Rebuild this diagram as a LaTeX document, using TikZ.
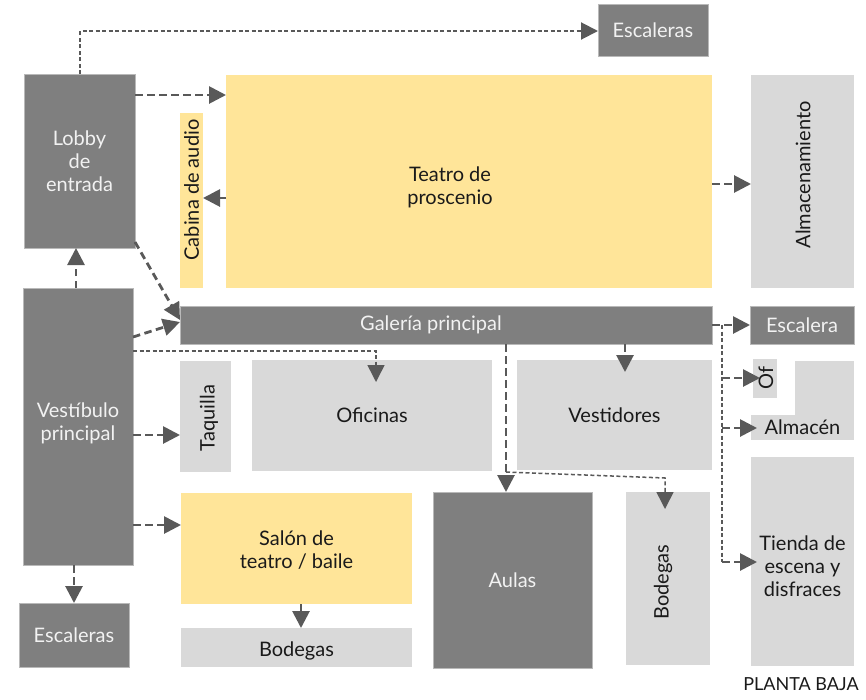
\documentclass[tikz,border=0pt]{standalone}
\usepackage{fontspec}
\setmainfont{Lato}
\usetikzlibrary{arrows.meta,calc}
\definecolor{dkgray}{HTML}{7F7F7F}
\definecolor{ltgray}{HTML}{D9D9D9}
\definecolor{yel}{HTML}{FFE599}
\definecolor{arr}{HTML}{595959}
\definecolor{txtw}{HTML}{F2F2F2}
\definecolor{txtb}{HTML}{1A1A1A}
\begin{document}
\begin{tikzpicture}[x=1pt,y=-1pt,
  font=\fontsize{20}{23}\selectfont,
  bx/.style={rectangle,inner sep=0pt,outer sep=0pt,align=center},
  dk/.style={bx,fill=dkgray,draw=gray!55,line width=0.8pt,text=txtw},
  lt/.style={bx,fill=ltgray,text=txtb},
  yl/.style={bx,fill=yel,text=txtb},
  rot/.style={rotate=90,inner sep=0pt,text=txtb},
  thk/.style={draw=arr,line width=2.8pt,dash pattern=on 7.5pt off 4.5pt,-{Triangle[length=17pt,width=17pt]}},
  thn/.style={draw=arr,line width=1.5pt,dash pattern=on 4pt off 2.5pt},
  thna/.style={thn,-{Triangle[length=17pt,width=17pt]}},
]
\useasboundingbox (0,0) rectangle (866,699);

% boxes
\node[dk,minimum width=110pt,minimum height=52pt] (esc1) at (653,30) {Escaleras};
\node[dk,minimum width=111pt,minimum height=174pt] (lobby) at (79.5,161) {Lobby\\de\\entrada};
\node[yl,minimum width=486pt,minimum height=213pt,label={[xshift=-19pt,yshift=-6pt,align=center,text=txtb]center:Teatro de\\proscenio}] (teatro) at (469,181.5) {};
\node[yl,minimum width=23pt,minimum height=175pt] (cabina) at (191.5,200.5) {};
\node[rot] (cabinaT) at (191.5,190) {Cabina de audio};
\node[lt,minimum width=103pt,minimum height=213pt] (almac) at (802.5,181.5) {};
\node[rot] (almacT) at (803,175) {Almacenamiento};
\node[dk,minimum width=110pt,minimum height=277pt,label={[align=center,yshift=3pt,text=txtw]center:Vestíbulo\\principal}] (vest) at (78,426.5) {};
\node[dk,minimum width=532pt,minimum height=38pt,label={[xshift=-15pt,text=txtw]center:Galería principal}] (gal) at (446,325) {};
\node[dk,minimum width=104pt,minimum height=38pt] (escR) at (802,325) {Escalera};
\node[lt,minimum width=51pt,minimum height=111pt] (taq) at (205.5,416.5) {};
\node[rot] (taqT) at (209,418) {Taquilla};
\node[lt,minimum width=240pt,minimum height=111pt] (ofi) at (372,415.5) {Oficinas};
\node[lt,minimum width=195pt,minimum height=110pt] (vestid) at (614.5,415) {Vestidores};
\node[lt,minimum width=24pt,minimum height=39pt] (of) at (765,378.5) {};
\node[rot] (ofT) at (766,378) {Of};
\node[lt,minimum width=59pt,minimum height=54pt] (box2) at (824.5,388) {};
\node[lt,minimum width=103pt,minimum height=25pt] (almacen) at (802.5,427.5) {Almacén};
\node[lt,minimum width=103pt,minimum height=209pt,label={[align=center,yshift=-5pt,text=txtb]center:Tienda de\\escena y\\disfraces}] (tienda) at (802.5,561.5) {};
\node[yl,minimum width=231pt,minimum height=111pt,label={[align=center,yshift=-2pt,text=txtb]center:Salón de\\teatro / baile}] (salon) at (296.5,548.5) {};
\node[lt,minimum width=231pt,minimum height=39pt,label={[yshift=-3pt,text=txtb]center:Bodegas}] (bod1) at (296.5,647.5) {};
\node[dk,minimum width=159pt,minimum height=176pt] (aulas) at (512.5,580) {Aulas};
\node[lt,minimum width=84pt,minimum height=173pt] (bod2) at (668,578.5) {};
\node[rot] (bod2T) at (663,582) {Bodegas};
\node[dk,minimum width=110pt,minimum height=64pt] (esc2) at (74,635) {Escaleras};
\node[text=txtb,font=\fontsize{18}{21}\selectfont] (pb) at (801,684) {PLANTA BAJA};

% connectors
\draw[thn,-{Triangle[length=17pt,width=17pt]},line width=2pt] (lobby.north -| 80,0) -- (80,31) -- (esc1.west |- 0,31);
\draw[thk] (lobby.east |- 0,95) -- (teatro.west |- 0,95);
\draw[thk] (teatro.west |- 0,198) -- (cabina.east |- 0,198);
\draw[thk] (teatro.east |- 0,184) -- (almac.west |- 0,184);
\draw[thk] (lobby.east |- 0,242) -- (gal.west |- 0,320);
\draw[thk] (vest.north -| 76,0) -- (lobby.south -| 76,0);
\draw[thk] (vest.east |- 0,337) -- (gal.west |- 0,322);
\draw[thna] (vest.east |- 0,351) -- (376,351) -- ($(ofi.north -| 376,0)+(0,22)$);
\draw[thk] (vest.east |- 0,435) -- (taq.west |- 0,435);
\draw[thk] (vest.east |- 0,525) -- (salon.west |- 0,525);
\draw[thk] (vest.south -| 74,0) -- (esc2.north -| 74,0);
\draw[thk] (salon.south -| 301,0) -- (bod1.north -| 301,0);
\draw[thk] (gal.south -| 506,0) -- (aulas.north -| 506,0);
\coordinate (j1) at (506,472);
\draw[thna] (j1) -- (665,478) -- ($(bod2.north -| 665,0)+(0,17)$);
\draw[thk] (gal.south -| 625,0) -- ($(vestid.north -| 625,0)+(0,12)$);
\draw[thk] (gal.east) -- (escR.west);
\coordinate (v0) at (722,325);
\coordinate (v1) at (722,378);
\coordinate (v2) at (722,428);
\coordinate (v3) at (722,562);
\draw[thn] (v0) -- (v3);
\draw[thk] (v1) -- ($(of.west |- v1)+(7,0)$);
\draw[thk] (v2) -- ($(almacen.west |- v2)+(6,0)$);
\draw[thk] (v3) -- ($(tienda.west |- v3)+(6,0)$);
\end{tikzpicture}
\end{document}
